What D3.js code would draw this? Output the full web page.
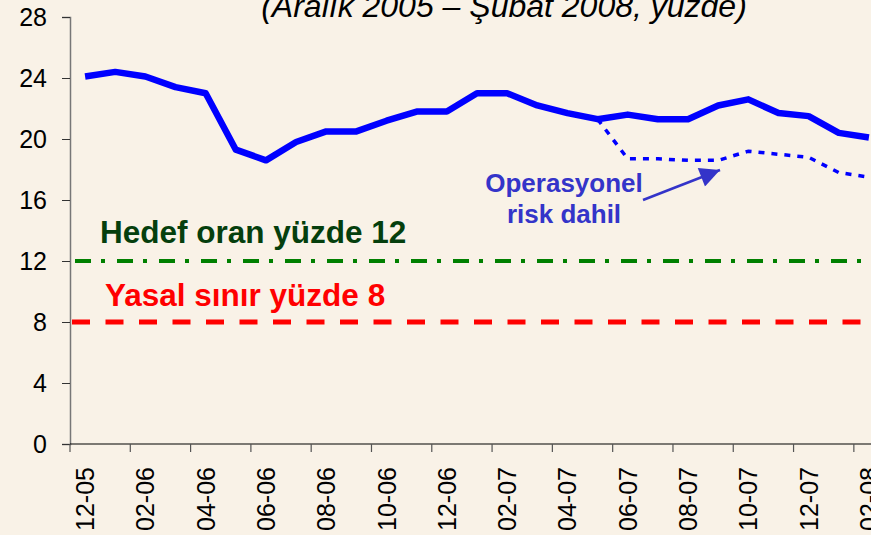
<!DOCTYPE html>
<html>
<head>
<meta charset="utf-8">
<script src="https://cdn.jsdelivr.net/npm/d3@7"></script>
<style>
  body { margin: 0; background: #f9f2e7; }
  text { font-family: "Liberation Sans", Arial, sans-serif; }
</style>
</head>
<body>
<div id="chart"></div>
<script>
// months, Dec 2005 - Feb 2008
var months = ["12-05","01-06","02-06","03-06","04-06","05-06","06-06","07-06","08-06","09-06","10-06","11-06",
              "12-06","01-07","02-07","03-07","04-07","05-07","06-07","07-07","08-07","09-07","10-07","11-07",
              "12-07","01-08","02-08"];

// capital adequacy ratio (%)
var ratio = [24.1, 24.4, 24.1, 23.4, 23.0, 19.3, 18.6, 19.8, 20.5, 20.5, 21.2, 21.8, 21.8, 23.0,
             23.0, 22.2, 21.7, 21.3, 21.6, 21.3, 21.3, 22.2, 22.6, 21.7, 21.5, 20.4, 20.1];

// ratio incl. operational risk
var ratioOpRisk = [null, null, null, null, null, null, null, null, null, null, null, null, null, null,
                   null, null, null, 21.3, 18.7, 18.7, 18.6, 18.6, 19.2, 19.0, 18.8, 17.8, 17.5];

var targetRate = 12;
var legalLimit = 8;
var yTicks = [0, 4, 8, 12, 16, 20, 24, 28];

var width = 871;
var height = 535;

var svg = d3.select("#chart")
  .append("svg")
    .attr("width", width)
    .attr("height", height);

svg.append("rect")
  .attr("width", width)
  .attr("height", height)
  .attr("fill", "#f9f2e7");

var x = d3.scaleBand()
  .domain(months)
  .range([70, 884]);

var y = d3.scaleLinear()
  .domain([0, 28])
  .range([444, 17]);

var xMid = function(m){ return x(m) + x.bandwidth() / 2; };

// title (cut at the top in the original)
svg.append("text")
  .attr("x", 504)
  .attr("y", 17)
  .attr("text-anchor", "middle")
  .style("font-size", "32px")
  .style("font-style", "italic")
  .attr("fill", "#000")
  .text("(Aralık 2005 – Şubat 2008, yüzde)");

// y axis
var yAxis = svg.append("g")
  .attr("transform", "translate(70,0)")
  .call(d3.axisLeft(y).tickValues(yTicks).tickSize(8).tickPadding(15));
yAxis.select(".domain").attr("stroke", "#777").attr("stroke-width", 1.5);
yAxis.selectAll(".tick line").attr("stroke", "#333");
yAxis.selectAll(".tick text")
  .style("font-size", "25px")
  .attr("fill", "#000")
  .style("font-family", "Liberation Sans, Arial, sans-serif");

// x axis: ticks at band boundaries every 2 months, labels at band centres
svg.append("line")
  .attr("x1", 70).attr("x2", width)
  .attr("y1", y(0)).attr("y2", y(0))
  .attr("stroke", "#000")
  .attr("stroke-width", 1.2);

var tickMonths = months.filter(function(d, i){ return i % 2 == 0; });

svg.append("g")
  .selectAll("line")
  .data(tickMonths)
  .enter()
  .append("line")
    .attr("x1", function(d){ return x(d); })
    .attr("x2", function(d){ return x(d); })
    .attr("y1", y(0))
    .attr("y2", y(0) + 8)
    .attr("stroke", "#555")
    .attr("stroke-width", 1.2);

svg.append("g")
  .selectAll("text")
  .data(tickMonths)
  .enter()
  .append("text")
    .attr("transform", function(d){ return "translate(" + (xMid(d) + 9) + "," + 467 + ") rotate(-90)"; })
    .attr("text-anchor", "end")
    .style("font-size", "25px")
    .attr("fill", "#000")
    .text(function(d){ return d; });

// reference lines
svg.append("line")
  .attr("x1", 75).attr("x2", width)
  .attr("y1", y(targetRate)).attr("y2", y(targetRate))
  .attr("stroke", "#008000")
  .attr("stroke-width", 4)
  .attr("stroke-dasharray", "16,10,4,12");

svg.append("line")
  .attr("x1", 72).attr("x2", width)
  .attr("y1", y(legalLimit)).attr("y2", y(legalLimit))
  .attr("stroke", "#ff0000")
  .attr("stroke-width", 5)
  .attr("stroke-dasharray", "18,15.5");

svg.append("text")
  .attr("x", 100)
  .attr("y", 243)
  .style("font-size", "31.5px")
  .style("font-weight", "bold")
  .attr("fill", "#053f0d")
  .text("Hedef oran yüzde 12");

svg.append("text")
  .attr("x", 105)
  .attr("y", 306)
  .style("font-size", "31.5px")
  .style("font-weight", "bold")
  .attr("fill", "#ff0000")
  .text("Yasal sınır yüzde 8");

// series
var line = d3.line()
  .defined(function(d){ return d.v != null; })
  .x(function(d){ return xMid(d.m); })
  .y(function(d){ return y(d.v); });

svg.append("path")
  .datum(months.map(function(m, i){ return {m: m, v: ratioOpRisk[i]}; }))
  .attr("d", line)
  .attr("fill", "none")
  .attr("stroke", "#0000ff")
  .attr("stroke-width", 3.5)
  .attr("stroke-dasharray", "6,7");

svg.append("path")
  .datum(months.map(function(m, i){ return {m: m, v: ratio[i]}; }))
  .attr("d", line)
  .attr("fill", "none")
  .attr("stroke", "#0000ff")
  .attr("stroke-width", 6.5)
  .attr("stroke-linejoin", "round");

// annotation
var note = svg.append("text")
  .attr("text-anchor", "middle")
  .style("font-size", "26px")
  .style("font-weight", "bold")
  .attr("fill", "#3434c9");
note.append("tspan").attr("x", 564).attr("y", 192).text("Operasyonel");
note.append("tspan").attr("x", 564).attr("y", 223).text("risk dahil");

svg.append("defs")
  .append("marker")
    .attr("id", "arrow")
    .attr("viewBox", "0 0 10 10")
    .attr("refX", 10).attr("refY", 5)
    .attr("markerWidth", 26).attr("markerHeight", 20)
    .attr("markerUnits", "userSpaceOnUse")
    .attr("orient", "auto")
  .append("path")
    .attr("d", "M0,0L10,5L0,10Z")
    .attr("fill", "#3434c9");

svg.append("line")
  .attr("x1", 643).attr("y1", 200)
  .attr("x2", 720).attr("y2", 170)
  .attr("stroke", "#3434c9")
  .attr("stroke-width", 2.5)
  .attr("marker-end", "url(#arrow)");
</script>
</body>
</html>
